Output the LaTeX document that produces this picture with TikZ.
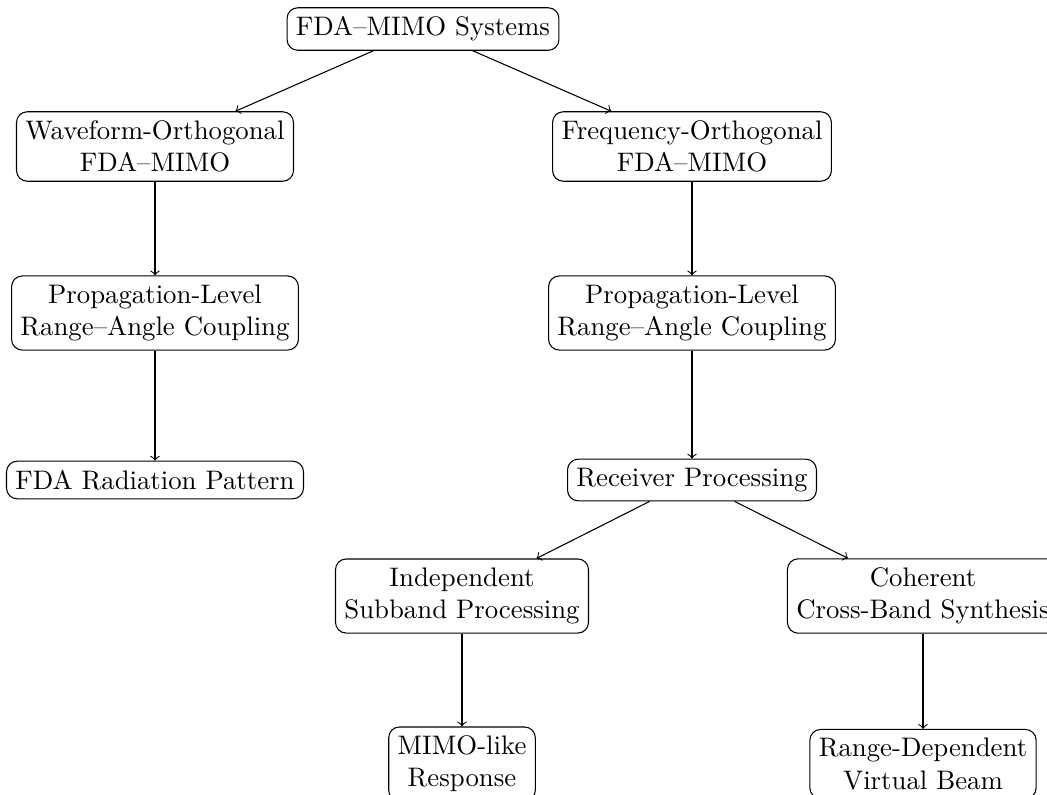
\documentclass[tikz,border=0pt]{standalone}
\begin{document}
\begin{tikzpicture}[x=0.3733pt,y=-0.3733pt,
  box/.style={draw,rounded corners,align=center,inner sep=3.33pt},
  conn/.style={->}]
\useasboundingbox (0,0) rectangle (1047,794);
\node[box] (root) at (423,29) {FDA--MIMO Systems};
\node[box] (wo) at (155,146.5) {Waveform-Orthogonal\\FDA--MIMO};
\node[box] (fo) at (692,146.5) {Frequency-Orthogonal\\FDA--MIMO};
\node[box] (pl1) at (155,313) {Propagation-Level\\Range--Angle Coupling};
\node[box] (pl2) at (692,313) {Propagation-Level\\Range--Angle Coupling};
\node[box] (rad) at (155,480) {FDA Radiation Pattern};
\node[box] (rp) at (692,480) {Receiver Processing};
\node[box] (isp) at (462,596) {Independent\\Subband Processing};
\node[box] (ccbs) at (923,596) {Coherent\\Cross-Band Synthesis};
\node[box] (mimo) at (462,764) {MIMO-like\\Response};
\node[box] (rdvb) at (923,764) {Range-Dependent\\Virtual Beam};
\draw[conn] (root) -- (wo);
\draw[conn] (root) -- (fo);
\draw[conn] (wo) -- (pl1);
\draw[conn] (pl1) -- (rad);
\draw[conn] (fo) -- (pl2);
\draw[conn] (pl2) -- (rp);
\draw[conn] (rp) -- (isp);
\draw[conn] (rp) -- (ccbs);
\draw[conn] (isp) -- (mimo);
\draw[conn] (ccbs) -- (rdvb);
\end{tikzpicture}
\end{document}
